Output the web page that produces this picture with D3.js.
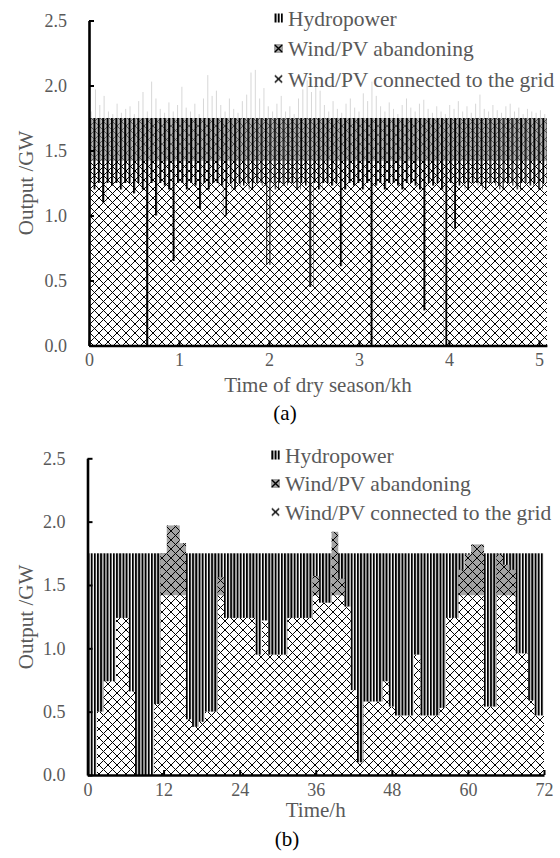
<!DOCTYPE html>
<html>
<head>
<meta charset="utf-8">
<script src="https://cdn.jsdelivr.net/npm/d3@7/dist/d3.min.js"></script>
<style>
  html, body { margin: 0; padding: 0; background: #fff; }
  svg text { font-family: "Liberation Serif", "Times New Roman", serif; }
</style>
</head>
<body>
<svg id="fig" width="560" height="858"></svg>
<script>
// ---------------- Panel (b): three typical days, one bar per hour (GW) ----------------
const hourTicks = [0, 12, 24, 36, 48, 60, 72];
const hourIndex = d3.range(0, 73);
// wind/PV power absorbed by the grid
const windGrid = [
  0.00, 0.00, 0.50, 0.74, 0.74, 1.24, 1.24, 0.66, 0.00, 0.00, 0.00, 0.56,
  1.42, 1.42, 1.42, 1.42, 0.44, 0.38, 0.42, 0.50, 0.50, 1.42, 1.24, 1.24,
  1.24, 1.24, 1.24, 0.95, 1.22, 0.95, 0.95, 0.95, 1.24, 1.24, 1.24, 1.24,
  1.42, 1.36, 1.36, 1.42, 1.42, 1.33, 0.67, 0.10, 0.58, 0.58, 0.58, 0.74,
  0.54, 0.47, 0.47, 0.47, 0.95, 0.47, 0.47, 0.47, 0.53, 1.24, 1.24, 1.42,
  1.42, 1.42, 1.42, 0.54, 0.54, 1.42, 1.42, 1.42, 0.96, 0.96, 0.59, 0.47,
  0.47
];
// wind/PV power curtailed
const windCurtailed = [
  0, 0, 0, 0, 0, 0, 0, 0, 0, 0, 0, 0,
  0.33, 0.55, 0.55, 0.41, 0, 0, 0, 0, 0, 0.14, 0, 0,
  0, 0, 0, 0, 0, 0, 0, 0, 0, 0, 0, 0,
  0.15, 0, 0, 0.50, 0.13, 0, 0, 0, 0, 0, 0, 0,
  0, 0, 0, 0, 0, 0, 0, 0, 0, 0, 0, 0.20,
  0.32, 0.40, 0.40, 0, 0, 0.32, 0.24, 0.20, 0, 0, 0, 0,
  0
];
// hydropower output
const hydroOut = [
  1.75, 1.75, 1.25, 1.01, 1.01, 0.51, 0.51, 1.09, 1.75, 1.75, 1.75, 1.19,
  0.33, 0.33, 0.33, 0.33, 1.31, 1.37, 1.33, 1.25, 1.25, 0.33, 0.51, 0.51,
  0.51, 0.51, 0.51, 0.80, 0.53, 0.80, 0.80, 0.80, 0.51, 0.51, 0.51, 0.51,
  0.33, 0.39, 0.39, 0.33, 0.33, 0.42, 1.08, 1.65, 1.17, 1.17, 1.17, 1.01,
  1.21, 1.28, 1.28, 1.28, 0.80, 1.28, 1.28, 1.28, 1.22, 0.51, 0.51, 0.33,
  0.33, 0.33, 0.33, 1.21, 1.21, 0.33, 0.33, 0.33, 0.79, 0.79, 1.16, 1.28,
  1.28
];

// ---------------- Panel (a): dry season in 48-hour bins (GW) ----------------
const dryBinHours = 48;
const dryTicks = [0, 1, 2, 3, 4, 5];
// highest grid-connected wind/PV output within each bin
const dryWindGrid = [
  1.42, 1.42, 1.42, 1.42, 1.42, 1.42, 1.42, 1.42, 1.42, 1.42, 1.42, 1.42, 1.42, 1.42, 1.42, 1.42,
  1.42, 1.42, 1.42, 1.42, 1.42, 1.42, 1.42, 1.42, 1.42, 1.42, 1.42, 1.42, 1.42, 1.42, 1.42, 1.42,
  1.42, 1.42, 1.42, 1.42, 1.42, 1.42, 1.42, 1.42, 1.42, 1.42, 1.42, 1.42, 1.42, 1.42, 1.42, 1.42,
  1.42, 1.42, 1.42, 1.42, 1.42, 1.42, 1.42, 1.42, 1.42, 1.42, 1.42, 1.42, 1.42, 1.42, 1.42, 1.42,
  1.42, 1.42, 1.42, 1.42, 1.42, 1.42, 1.42, 1.42, 1.42, 1.42, 1.42, 1.42, 1.42, 1.42, 1.42, 1.42,
  1.42, 1.42, 1.42, 1.42, 1.42, 1.42, 1.42, 1.42, 1.42, 1.42, 1.42, 1.42, 1.42, 1.42, 1.42, 1.42,
  1.42, 1.42, 1.42, 1.42, 1.42, 1.42, 1.42, 1.42, 1.42, 1.42
];
// highest hydropower output within each bin
const dryHydroMax = [
  0.50, 0.55, 0.50, 0.65, 0.50, 0.52, 0.50, 0.55, 0.50, 0.50, 0.58, 0.50, 0.55, 1.75, 0.50, 0.75,
  0.50, 0.52, 0.55, 1.10, 0.50, 0.50, 0.55, 0.50, 0.52, 0.70, 0.50, 0.55, 0.50, 0.50, 0.52, 0.75,
  0.50, 0.55, 0.50, 0.52, 0.50, 0.55, 0.50, 0.50, 0.52, 1.13, 0.50, 0.55, 0.50, 0.52, 0.50, 0.50,
  0.55, 0.50, 0.52, 1.30, 0.50, 0.55, 0.50, 0.50, 0.52, 0.50, 1.14, 0.55, 0.50, 0.52, 0.50, 0.55,
  0.50, 1.75, 0.52, 0.50, 0.55, 0.50, 0.50, 0.52, 0.55, 0.50, 0.50, 0.52, 0.55, 1.48, 0.50, 0.52,
  0.50, 0.55, 1.75, 0.50, 0.85, 0.52, 0.50, 0.55, 0.50, 0.50, 0.52, 0.55, 0.50, 0.50, 0.52, 0.55,
  0.50, 0.50, 0.52, 0.55, 0.50, 0.50, 0.52, 0.50, 0.55, 0.50
];
// highest available wind/PV output (grid-connected plus curtailed) within each bin
const dryWindPeak = [
  1.80, 1.97, 1.85, 1.92, 1.80, 1.78, 1.86, 1.79, 1.82, 1.84, 1.78, 1.88, 1.95, 1.80, 2.03, 1.90,
  1.82, 1.79, 1.87, 1.80, 1.85, 1.99, 1.83, 1.80, 1.86, 1.78, 1.90, 2.08, 1.92, 1.96, 1.85, 1.80,
  1.90, 1.82, 1.79, 1.88, 1.93, 2.10, 2.12, 1.90, 1.98, 1.84, 1.80, 1.86, 1.92, 1.80, 1.84, 1.78,
  1.90, 1.97, 2.04, 1.95, 2.00, 1.96, 1.85, 1.80, 1.88, 1.82, 1.79, 1.86, 1.90, 1.83, 1.80, 1.94,
  1.88, 2.03, 1.92, 1.84, 1.80, 1.87, 1.82, 1.78, 1.85, 1.90, 1.83, 1.80, 1.86, 1.89, 1.82, 1.79,
  1.84, 1.80, 1.78, 1.85, 1.82, 1.88, 1.80, 1.84, 1.79, 1.86, 1.93, 1.82, 1.80, 1.85, 1.81, 1.79,
  1.84, 1.86, 1.80, 1.83, 1.78, 1.82, 1.80, 1.79, 1.81, 1.78
];

const outTicks = [0, 0.5, 1.0, 1.5, 2.0, 2.5];
const seriesNames = ["Hydropower", "Wind/PV abandoning", "Wind/PV connected to the grid"];

// ---------------- drawing ----------------
const svg = d3.select("#fig");
const defs = svg.append("defs");
const TXT = "#595959";
const GRAY = "#a3a3a3";

function stripePattern(id, period, bar, x0, bg) {
  const p = defs.append("pattern").attr("id", id)
    .attr("patternUnits", "userSpaceOnUse")
    .attr("x", x0).attr("y", 0).attr("width", period).attr("height", 10);
  if (bg) p.append("rect").attr("width", period).attr("height", 10).attr("fill", bg);
  p.append("rect").attr("width", bar).attr("height", 10).attr("fill", "#000");
}
function latticePattern(id, s, bg, sw, col) {
  const p = defs.append("pattern").attr("id", id)
    .attr("patternUnits", "userSpaceOnUse")
    .attr("width", s).attr("height", s);
  p.append("rect").attr("width", s).attr("height", s).attr("fill", bg);
  let d = "";
  for (const k of [-1, 0, 1]) {
    d += `M${-s},${-s + k * s}L${2 * s},${2 * s + k * s}`;
    d += `M${-s},${2 * s + k * s}L${2 * s},${-s + k * s}`;
  }
  p.append("path").attr("d", d).attr("stroke", col || "#000").attr("stroke-width", sw)
    .attr("fill", "none").attr("shape-rendering", "crispEdges");
}
function legendX(id, bg) {
  const p = defs.append("pattern").attr("id", id)
    .attr("patternUnits", "objectBoundingBox").attr("patternContentUnits", "objectBoundingBox")
    .attr("width", 1).attr("height", 1);
  p.append("rect").attr("width", 1).attr("height", 1).attr("fill", bg);
  p.append("path").attr("d", "M0.1,0.1L0.9,0.9M0.9,0.1L0.1,0.9")
    .attr("stroke", "#000").attr("stroke-width", 0.16);
}

// panel frames
const A = { x0: 89, x1: 546.9, y0: 345.5, y1: 20.5 };
const B = { x0: 87.5, x1: 544, y0: 775, y1: 458.3 };

const xA = d3.scaleLinear().domain([0, 5.088]).range([A.x0, A.x1]);
const yA = d3.scaleLinear().domain([0, 2.5]).range([A.y0, A.y1]);
const xB = d3.scaleLinear().domain([0, 72]).range([B.x0, B.x1]);
const yB = d3.scaleLinear().domain([0, 2.5]).range([B.y0, B.y1]);

stripePattern("hydroB", (xB(1) - xB(0)) / 2, 2.0, xB(0), "#fff");
stripePattern("hydroA", 4.4, 2.0, xA(0), null);
latticePattern("gridB", 9, "#fff", 1.0);
latticePattern("curtB", 9, GRAY, 1.0);
latticePattern("gridA", 9, "#fff", 1.0);
latticePattern("curtA", 9, "#b3b3b3", 0.8, "#444");
legendX("legGrid", "#fff");
legendX("legCurt", GRAY);

defs.append("clipPath").attr("id", "clipA").append("rect")
  .attr("x", A.x0).attr("y", 0).attr("width", A.x1 - A.x0).attr("height", A.y0);
defs.append("clipPath").attr("id", "clipB").append("rect")
  .attr("x", B.x0).attr("y", 400).attr("width", B.x1 - B.x0).attr("height", B.y0 - 400);

// ---- panel (a) bars ----
const dryBins = dryWindGrid.map((g, i) => ({
  t0: i * dryBinHours / 1000,
  t1: (i + 1) * dryBinHours / 1000,
  grid: g,
  low: Math.max(0, +(1.75 - dryHydroMax[i]).toFixed(2)),
  hydro: dryHydroMax[i],
  peak: dryWindPeak[i]
}));
const gA = svg.append("g").attr("clip-path", "url(#clipA)");
// grid-connected wind/PV
gA.append("g").selectAll("rect").data(dryBins).join("rect")
  .attr("x", d => xA(d.t0)).attr("width", d => xA(d.t1) - xA(d.t0) + 0.3)
  .attr("y", d => yA(d.grid)).attr("height", d => yA(0) - yA(d.grid))
  .attr("fill", "url(#gridA)");
// curtailed wind/PV up to the hydropower ceiling
gA.append("g").selectAll("rect").data(dryBins).join("rect")
  .attr("x", d => xA(d.t0)).attr("width", d => xA(d.t1) - xA(d.t0) + 0.3)
  .attr("y", d => yA(Math.min(d.peak, d.low + d.hydro)))
  .attr("height", d => Math.max(0, yA(d.grid) - yA(Math.min(d.peak, d.low + d.hydro))))
  .attr("fill", "url(#curtA)");
// curtailment peaks above the ceiling
gA.append("g").selectAll("line").data(dryBins.filter(d => d.peak > d.low + d.hydro)).join("line")
  .attr("x1", d => xA((d.t0 + d.t1) / 2)).attr("x2", d => xA((d.t0 + d.t1) / 2))
  .attr("y1", d => yA(d.low + d.hydro)).attr("y2", d => yA(d.peak))
  .attr("stroke", "#b8b8b8").attr("stroke-width", 0.8).attr("stroke-opacity", 0.7);
// hydropower
gA.append("g").selectAll("rect").data(dryBins).join("rect")
  .attr("x", d => xA(d.t0)).attr("width", d => xA(d.t1) - xA(d.t0))
  .attr("y", d => yA(d.low + d.hydro)).attr("height", d => yA(d.low) - yA(d.low + d.hydro))
  .attr("fill", "url(#hydroA)");

// ---- panel (b) bars ----
const hrs = hourIndex.map(i => ({
  t: i, grid: windGrid[i], curt: windCurtailed[i], hydro: hydroOut[i]
}));
const gB = svg.append("g").attr("clip-path", "url(#clipB)");
const bx = d => xB(d.t - 0.5);
const bw = xB(1) - xB(0);
gB.append("g").selectAll("rect").data(hrs).join("rect")
  .attr("x", bx).attr("width", bw + 0.3)
  .attr("y", d => yB(d.grid)).attr("height", d => yB(0) - yB(d.grid))
  .attr("fill", "url(#gridB)");
gB.append("g").selectAll("rect").data(hrs).join("rect")
  .attr("x", bx).attr("width", bw)
  .attr("y", d => yB(d.grid + d.hydro)).attr("height", d => yB(d.grid) - yB(d.grid + d.hydro))
  .attr("fill", "url(#hydroB)");
gB.append("g").selectAll("rect").data(hrs.filter(d => d.curt > 0)).join("rect")
  .attr("x", bx).attr("width", bw + 0.3)
  .attr("y", d => yB(d.grid + d.curt)).attr("height", d => yB(d.grid) - yB(d.grid + d.curt))
  .attr("fill", "url(#curtB)");

// ---- axes ----
function styleAxis(g, fs) {
  g.select(".domain").attr("stroke", "#000").attr("stroke-width", 2.6);
  g.selectAll(".tick line").attr("stroke", "#000").attr("stroke-width", 2);
  g.selectAll(".tick text").attr("fill", TXT).attr("font-size", fs)
    .attr("font-family", "'Liberation Serif','Times New Roman',serif");
}
function drawAxes(x, y, xt, yAt) {
  svg.append("g").attr("transform", `translate(0,${y(0)})`)
    .call(d3.axisBottom(x).tickValues(xt).tickFormat(d3.format("d")).tickSize(-5).tickSizeOuter(0).tickPadding(8))
    .call(g => styleAxis(g, 18));
  svg.append("g").attr("transform", `translate(${x(0)},0)`)
    .call(d3.axisLeft(y).tickValues(yAt).tickFormat(d3.format(".1f")).tickSize(-5).tickSizeOuter(0).tickPadding(22))
    .call(g => styleAxis(g, 18));
}
drawAxes(xA, yA, dryTicks, outTicks);
drawAxes(xB, yB, hourTicks, outTicks);

// ---- titles ----
function label(x, y, text, opts = {}) {
  const t = svg.append("text").attr("x", x).attr("y", y).attr("dy", "0.35em")
    .attr("text-anchor", opts.anchor || "middle")
    .attr("font-size", opts.size || 21)
    .attr("fill", opts.color || TXT).text(text);
  if (opts.rotate) t.attr("transform", `rotate(-90,${x},${y})`);
  return t;
}
label(26, 183, "Output /GW", { rotate: true });
label(26, 617, "Output /GW", { rotate: true });
label((A.x0 + A.x1) / 2, 385, "Time of dry season/kh");
label((B.x0 + B.x1) / 2, 810, "Time/h");
label(285, 413, "(a)", { color: "#000" });
label(287, 839, "(b)", { color: "#000" });

// ---- legends ----
function legend(x, ys) {
  const fills = ["url(#hydroB)", "url(#legCurt)", "url(#legGrid)"];
  seriesNames.forEach((name, i) => {
    svg.append("rect").attr("x", x).attr("y", ys[i] - 4.5).attr("width", 9).attr("height", 9)
      .attr("fill", fills[i]);
    label(x + 14, ys[i], name, { anchor: "start", size: 21.5 });
  });
}
legend(274, [18, 48.5, 79]);
legend(271, [455, 483.5, 512]);
</script>
</body>
</html>
